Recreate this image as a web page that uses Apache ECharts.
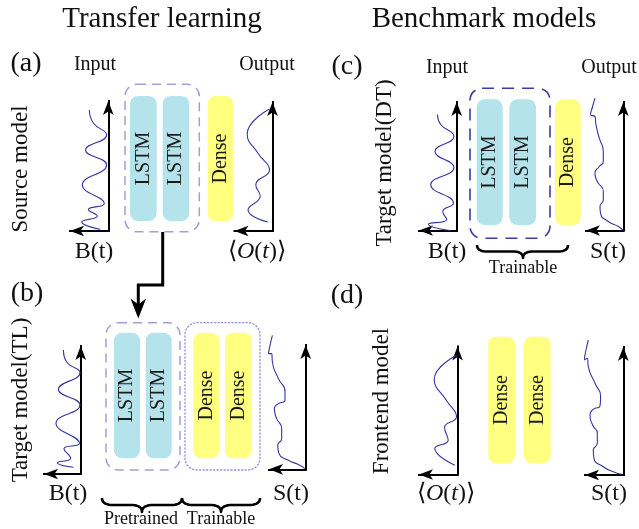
<!DOCTYPE html>
<html><head><meta charset="utf-8">
<script src="https://cdn.jsdelivr.net/npm/echarts@6/dist/echarts.min.js"></script>
<style>html,body{margin:0;padding:0;background:#fff}#c{width:639px;height:529px}</style>
</head><body><div id="c"></div>
<script>
// ---------------- data (text + signal curves) ----------------
const titles = ['Transfer learning', 'Benchmark models'];
const panelLetters = ['(a)', '(b)', '(c)', '(d)'];
const sideLabels = ['Source model', 'Target model(TL)', 'Target model(DT)', 'Frontend model'];
const ioLabels = ['Input', 'Output'];
const signalB = 'B(t)';
const signalS = 'S(t)';
const signalO = ['⟨', 'O', '(', 't', ')⟩'];
const layerNames = ['LSTM', 'Dense'];
const braceLabels = ['Pretrained', 'Trainable'];

// each curve: [distance left of the vertical axis, height above the horizontal axis] (turning points)
const curveAIn = [[19,121],[15,108],[1.7,96],[22.7,81],[1.7,66],[26,46],[4,27.5],[20,21.5],[11,15],[26.5,9],[8,1.7]];
const curveAOut = [[3,122],[25.3,97],[14,77],[3,61],[16.7,46],[12.3,35],[24.5,21],[4.7,9]];
const curveCIn = [[19.3,116],[16,106],[2.7,94],[21.7,79],[2.7,63],[26,45.7],[3.3,27.3],[14,19],[10,11],[28.3,6.3],[6.7,0]];
const curveCOut = [[28.3,132.3],[30.7,124],[32.7,115.7],[28.3,114],[27.3,105.7],[24,92.3],[20,79],[20,69],[24,64],[28.3,57.3],[26,49],[20,39],[20,30.7],[23.3,24],[22.7,17.3],[15,9],[5,4],[0,0]];
const curveBIn = [[17.3,124],[14,112],[0.7,101.3],[22.3,84.7],[0.7,69],[24.7,50.7],[1.3,30.7],[16.7,25.3],[10,15.7],[23.3,11.3],[7.3,6.7]];
const curveBOut = [[33.3,134],[35.7,124],[37.3,115.7],[34,115.7],[33.3,107.3],[27.3,90.7],[20.7,77.3],[20.7,69],[27.3,65.7],[31.3,60.7],[29,50.7],[24,40.7],[24,30.7],[28,24],[26.7,15.7],[17.3,9],[7.3,4.7],[0.7,0.7]];
const curveDIn = [[1,119.3],[23.3,95],[11,74],[1,57.7],[13,47],[9.3,34.3],[22.7,26],[2.7,9.3]];
const curveDOut = [[35,135],[37.3,125],[39.3,115],[36,116.7],[35,108.3],[28.3,91.7],[22.7,78.3],[23.3,69],[30,65.7],[33.3,60],[30.7,50],[26,41.7],[26,31.7],[30,25],[29.3,16.7],[20,8.3],[10,3.3],[1.7,0.7]];

// ---------------- layout (diagram units = canvas px) ----------------
const W = 639, H = 529;
const SERIF = '"Liberation Serif", "Times New Roman", serif';
const AH = 14; // arrow head length
const plots = [ // origin (ox, oy), arrow tips (tx, ty)
  { ox: 108.3, oy: 231, tx: 63, ty: 94, curve: curveAIn, sm: 0.5 },
  { ox: 272.5, oy: 231, tx: 227.5, ty: 95, curve: curveAOut, sm: 0.5 },
  { ox: 456.7, oy: 230.5, tx: 412, ty: 95, curve: curveCIn, sm: 0.5 },
  { ox: 623.3, oy: 230.5, tx: 579, ty: 95, curve: curveCOut, sm: 0.6 },
  { ox: 80.7, oy: 474, tx: 37, ty: 339, curve: curveBIn, sm: 0.5 },
  { ox: 305.7, oy: 469.3, tx: 262, ty: 338, curve: curveBOut, sm: 0.6 },
  { ox: 457.5, oy: 474.5, tx: 412, ty: 339.5, curve: curveDIn, sm: 0.5 },
  { ox: 623.3, oy: 475, tx: 578, ty: 340, curve: curveDOut, sm: 0.6 }
];

const items = [];
// layer blocks
const blocks = [
  [130, 96, 156.7, 221, 0], [162.7, 96, 189.3, 221, 0], [207.7, 96, 233.3, 221, 1],
  [476.7, 99.3, 502.7, 225, 0], [509.3, 99.3, 536, 225, 0], [555, 99.3, 580.7, 225, 1],
  [114, 332.7, 140, 458.3, 0], [145.7, 332.7, 171.7, 458.3, 0], [193.3, 332.7, 219.3, 458.3, 1], [225, 332.7, 251.7, 458.3, 1],
  [488.3, 336.7, 515, 463.3, 1], [524, 336.7, 550.7, 463.3, 1]
];
blocks.forEach(b => items.push({ t: 'block', b }));
// group frames
[[125, 84.3, 199.3, 231.7, 'light'], [106, 322.7, 180, 470, 'light'], [185, 322.7, 260, 470, 'dot'], [470, 88.3, 550, 238.3, 'dark']]
  .forEach(f => items.push({ t: 'frame', f }));
// braces
[[477, 568, 245, 13, 523], [102, 182, 498, 14, 142], [182, 260, 498, 14, 221]].forEach(b => items.push({ t: 'brace', b }));
// transfer arrow
items.push({ t: 'arrow', pts: [[162.7, 232], [162.7, 285], [138.3, 285], [138.3, 305]], tip: [138.3, 318.5] });
// texts
items.push({ t: 'text', x: 162, y: 19, text: titles[0], size: 29 });
items.push({ t: 'text', x: 484, y: 19, text: titles[1], size: 29 });
[[26, 64], [27, 294], [347, 67], [347, 296]].forEach((p, i) => items.push({ t: 'text', x: p[0], y: p[1], text: panelLetters[i], size: 28 }));
[[21, 169, 0], [21, 400, 1], [385, 163, 2], [382, 401, 3]].forEach(p => items.push({ t: 'text', x: p[0], y: p[1], text: sideLabels[p[2]], size: 23, rot: true }));
[[95, 65, 0], [267, 65, 1], [447, 68, 0], [609, 68, 1]].forEach(p => items.push({ t: 'text', x: p[0], y: p[1], text: ioLabels[p[2]], size: 20 }));
[[94, 252], [447, 252], [68, 494]].forEach(p => items.push({ t: 'text', x: p[0], y: p[1], text: signalB, size: 24 }));
[[608, 252], [291, 494], [609, 494]].forEach(p => items.push({ t: 'text', x: p[0], y: p[1], text: signalS, size: 24 }));
[[257, 252], [446, 494]].forEach(p => items.push({ t: 'otext', x: p[0], y: p[1], size: 24 }));
items.push({ t: 'text', x: 523, y: 268, text: braceLabels[1], size: 18 });
items.push({ t: 'text', x: 141, y: 519, text: braceLabels[0], size: 18 });
items.push({ t: 'text', x: 221, y: 519, text: braceLabels[1], size: 18 });

function quad(p0, c, p1, n, out) {
  for (let i = 0; i <= n; i++) {
    const s = i / n, a = (1 - s) * (1 - s), b = 2 * (1 - s) * s, d = s * s;
    out.push([a * p0[0] + b * c[0] + d * p1[0], a * p0[1] + b * c[1] + d * p1[1]]);
  }
}
function bracePts(x0, x1, y0, h, xm) {
  const ym = y0 + h * 0.5, yt = y0 + h, q = h * 0.8, pts = [];
  quad([x0, y0], [x0, ym], [x0 + q, ym], 10, pts);
  quad([xm - q, ym], [xm, ym], [xm, yt], 10, pts);
  quad([xm, yt], [xm, ym], [xm + q, ym], 10, pts);
  quad([x1 - q, ym], [x1, ym], [x1, y0], 10, pts);
  return pts;
}

function renderItem(params, api) {
  const it = items[params.dataIndex];
  const P = (x, y) => api.coord([x, y]);
  if (it.t === 'block') {
    const [x0, y0, x1, y1, k] = it.b, a = P(x0, y0), b = P(x1, y1);
    const c = P((x0 + x1) / 2, (y0 + y1) / 2);
    return { type: 'group', children: [
      { type: 'rect', shape: { x: a[0], y: a[1], width: b[0] - a[0], height: b[1] - a[1], r: 8 },
        style: { fill: k === 0 ? '#b5e3eb' : '#ffff80' } },
      { type: 'text', x: c[0], y: c[1], rotation: Math.PI / 2,
        style: { text: layerNames[k], font: '20px ' + SERIF, fill: '#1a1a1a', align: 'center', verticalAlign: 'middle' } }
    ] };
  }
  if (it.t === 'frame') {
    const [x0, y0, x1, y1, k] = it.f, a = P(x0, y0), b = P(x1, y1);
    const st = k === 'light' ? { stroke: '#a0a0d6', lineWidth: 1.5, lineDash: [9, 6] }
      : k === 'dark' ? { stroke: '#3b3ba6', lineWidth: 1.6, lineDash: [12, 8] }
      : { stroke: '#8f8fdc', lineWidth: 1.3, lineDash: [1.2, 2.3], lineCap: 'round' };
    return { type: 'rect', shape: { x: a[0], y: a[1], width: b[0] - a[0], height: b[1] - a[1], r: 12 },
      style: Object.assign({ fill: null }, st) };
  }
  if (it.t === 'brace') {
    const pts = bracePts.apply(null, it.b).map(p => P(p[0], p[1]));
    return { type: 'polyline', shape: { points: pts }, style: { stroke: '#000', lineWidth: 2.6, fill: null, lineJoin: 'round' } };
  }
  if (it.t === 'arrow') {
    const pts = it.pts.map(p => P(p[0], p[1]));
    const t = it.tip;
    const head = [P(t[0], t[1]), P(t[0] - 7.8, t[1] - 20), P(t[0], t[1] - 14), P(t[0] + 7.8, t[1] - 20)];
    return { type: 'group', children: [
      { type: 'polyline', shape: { points: pts }, style: { stroke: '#000', lineWidth: 3, fill: null } },
      { type: 'polygon', shape: { points: head }, style: { fill: '#000' } }
    ] };
  }
  if (it.t === 'text') {
    const c = P(it.x, it.y);
    return { type: 'text', x: c[0], y: c[1], rotation: it.rot ? Math.PI / 2 : 0,
      style: { text: it.text, font: it.size + 'px ' + SERIF, fill: '#111', align: 'center', verticalAlign: 'middle' } };
  }
  if (it.t === 'otext') {
    const c = P(it.x, it.y);
    const f = it.size + 'px ' + SERIF;
    return { type: 'text', x: c[0], y: c[1],
      style: { text: '{u|' + signalO[0] + '}{i|' + signalO[1] + '}{u|' + signalO[2] + '}{i|' + signalO[3] + '}{u|' + signalO[4] + '}',
        rich: { u: { font: f, fill: '#111' }, i: { font: 'italic ' + f, fill: '#111' } },
        fill: '#111', align: 'center', verticalAlign: 'middle' } };
  }
  return null;
}

const grids = [{ left: 0, top: 0, width: W, height: H }];
const xAxes = [{ gridIndex: 0, type: 'value', min: 0, max: W, show: false }];
const yAxes = [{ gridIndex: 0, type: 'value', min: 0, max: H, inverse: true, show: false }];
const series = [{ type: 'custom', xAxisIndex: 0, yAxisIndex: 0, data: items.map((d, i) => [i, 0]),
  renderItem, silent: true, clip: false, z: 2 }];

const axisLineStyle = { color: '#000', width: 2, cap: 'square' };
plots.forEach((p, k) => {
  const gi = k + 1;
  const left = p.tx + AH / 2, top = p.ty + AH / 2;
  const w = p.ox - left, h = p.oy - top;
  grids.push({ left: left, top: top, width: w, height: h });
  xAxes.push({ gridIndex: gi, type: 'value', min: -w, max: 0, position: 'bottom',
    axisLine: { show: true, onZero: false, symbol: ['arrow', 'none'], symbolSize: [8, AH], lineStyle: axisLineStyle },
    axisTick: { show: false }, axisLabel: { show: false }, splitLine: { show: false } });
  yAxes.push({ gridIndex: gi, type: 'value', min: 0, max: h, position: 'right',
    axisLine: { show: true, onZero: false, symbol: ['none', 'arrow'], symbolSize: [8, AH], lineStyle: axisLineStyle },
    axisTick: { show: false }, axisLabel: { show: false }, splitLine: { show: false } });
  series.push({ type: 'line', xAxisIndex: gi, yAxisIndex: gi, data: p.curve.map(d => [-d[0], d[1]]),
    smooth: p.sm, showSymbol: false, clip: false, silent: true, z: 3,
    lineStyle: { color: '#35359e', width: 1.1 } });
});

const chart = echarts.init(document.getElementById('c'), null, { renderer: 'canvas' });
chart.setOption({
  backgroundColor: '#fff', animation: false,
  grid: grids, xAxis: xAxes, yAxis: yAxes, series
});
</script></body></html>
